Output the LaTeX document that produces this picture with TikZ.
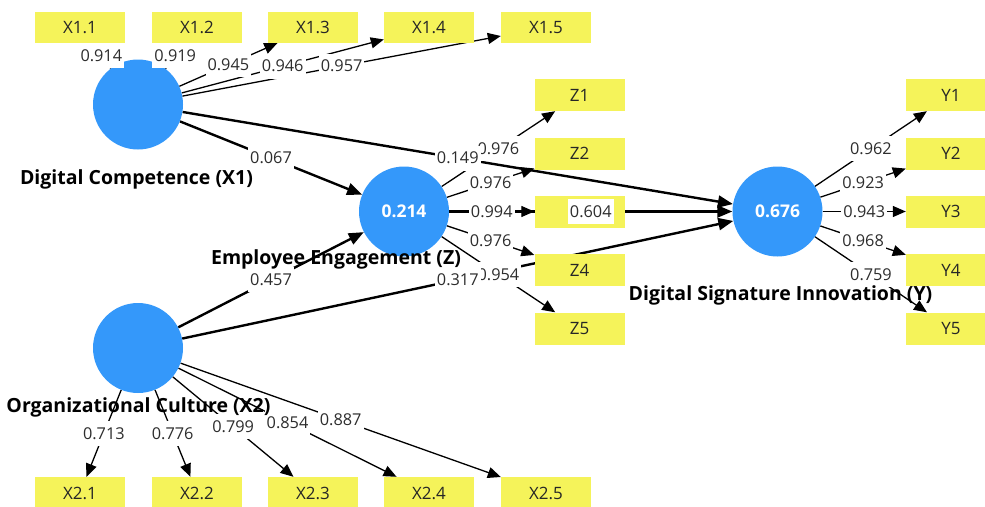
\documentclass[tikz,border=0pt]{standalone}
\usepackage{fontspec}
\setmainfont{Open Sans}
\usetikzlibrary{arrows.meta}
\definecolor{lvblue}{RGB}{52,152,250}
\definecolor{mvyellow}{RGB}{245,243,90}
\definecolor{numgray}{RGB}{45,45,45}
\pgfdeclarelayer{bg}
\pgfdeclarelayer{fg}
\pgfsetlayers{bg,main,fg}
\begin{document}
\begin{tikzpicture}[x=1pt,y=-1pt,
  latent/.style={circle,fill=lvblue,minimum size=90pt,inner sep=0pt,text=white,font=\fontsize{17.5}{20}\selectfont\bfseries},
  mvbox/.style={rectangle,fill=mvyellow,minimum width=90pt,minimum height=31pt,inner sep=0pt,text=black!85,font=\fontsize{17}{20}\selectfont},
  lvname/.style={font=\fontsize{19.5}{23}\selectfont\bfseries,inner sep=0pt,text=black},
  lab/.style={fill=white,text=numgray,inner xsep=2pt,inner ysep=0pt,minimum height=25pt,font=\fontsize{16.3}{19}\selectfont},
  ind/.style={line width=1.3pt,-{Triangle[length=13pt,width=11pt]}},
  struct/.style={line width=2.4pt,-{Triangle[length=15pt,width=12pt]}},
]
\useasboundingbox (0,0) rectangle (985,506);
\clip (0,0) rectangle (985,506);
% latent variables
\node[latent] (X1) at (138,104.5) {};
\node[latent] (X2) at (138,348) {};
\node[latent] (Z) at (404,211.5) {0.214};
\node[latent] (Y) at (777.5,211.5) {0.676};
% indicators
\foreach \i/\x in {1/80,2/197,3/313,4/429,5/546} {
  \node[mvbox] (X1\i) at (\x,27.5) {X1.\i};
  \node[mvbox,minimum height=32pt] (X2\i) at (\x,493) {X2.\i};
}
\foreach \i/\y in {1/95,2/153.5,3/211.5,4/270,5/328.5} {
  \node[mvbox,minimum height=32pt] (Z\i) at (579.5,\y) {Z\i};
  \node[mvbox,minimum height=32pt] (Y\i) at (951,\y) {Y\i};
}
% connectors
\begin{pgfonlayer}{bg}
\foreach \i in {1,...,5} {
  \draw[ind] (X1) -- (X1\i);
  \draw[ind] (X2) -- (X2\i);
  \draw[ind] (Z) -- (Z\i);
  \draw[ind] (Y) -- (Y\i);
}
\draw[struct] (X1) -- (Z);
\draw[struct] (X1) -- (Y);
\draw[struct] (X2) -- (Z);
\draw[struct] (X2) -- (Y);
\draw[struct] (Z) -- (Y);
\end{pgfonlayer}
% labels
\begin{pgfonlayer}{fg}
\foreach \i/\v in {1/0.914,2/0.919,3/0.945,4/0.946,5/0.957}
  \path (X1) -- (X1\i) node[lab,midway] {\v};
\foreach \i/\v in {1/0.713,2/0.776,3/0.799,4/0.854,5/0.887}
  \path (X2) -- (X2\i) node[lab,midway] {\v};
\foreach \i/\v in {1/0.976,2/0.976,3/0.994,4/0.976,5/0.954}
  \path (Z) -- (Z\i) node[lab,midway] {\v};
\foreach \i/\v in {1/0.962,2/0.923,3/0.943,4/0.968,5/0.759}
  \path (Y) -- (Y\i) node[lab,midway] {\v};
\path (X1) -- (Z) node[lab,midway] {0.067};
\path (X1) -- (Y) node[lab,midway] {0.149};
\path (X2) -- (Z) node[lab,midway] {0.457};
\path (X2) -- (Y) node[lab,midway] {0.317};
\path (Z) -- (Y) node[lab,midway] {0.604};
% latent names
\node[lvname] (nX1) at (136.5,179) {Digital Competence (X1)};
\node[lvname] (nZ) at (336,259) {Employee Engagement (Z)};
\node[lvname] (nY) at (780.5,295) {Digital Signature Innovation (Y)};
\node[lvname] (nX2) at (138.5,407) {Organizational Culture (X2)};
\end{pgfonlayer}
\end{tikzpicture}
\end{document}
